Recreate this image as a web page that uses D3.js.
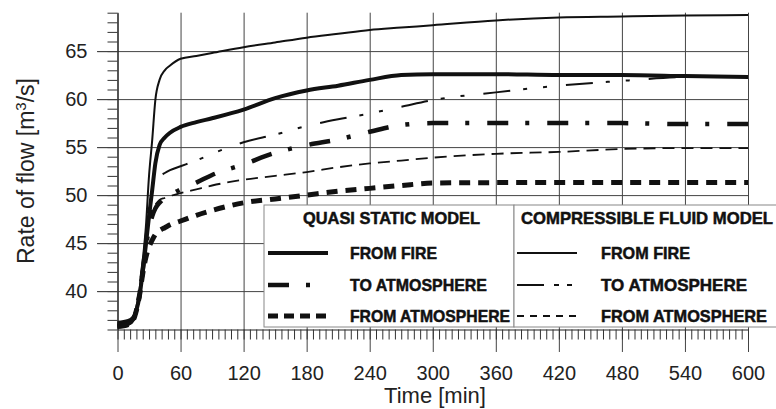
<!DOCTYPE html>
<html>
<head>
<meta charset="utf-8">
<script src="https://cdn.jsdelivr.net/npm/d3@7"></script>
<style>
  body { margin: 0; background: #fff; }
  svg { display: block; font-family: "Liberation Sans", Arial, sans-serif; }
</style>
</head>
<body>
<svg width="776" height="409"></svg>
<script>
// time grid [min]
const times = [0, 10, 15, 18, 21, 24, 27, 30, 33, 36, 40, 45, 50, 60, 75, 90, 120, 150, 180, 210, 240, 270, 300, 360, 420, 480, 540, 600];

// compressible fluid model
const cfFire    = [36.8, 37.0, 37.4, 38.4, 40.2, 43.2, 46.7, 52.0, 55.7, 59.9, 62.0, 63.0, 63.5, 64.2, 64.5, 64.8, 65.4, 65.9, 66.4, 66.8, 67.2, 67.45, 67.7, 68.2, 68.5, 68.6, 68.7, 68.75];
const cfToAtm   = [36.6, 36.8, 37.3, 38.2, 40.0, 42.8, 46.0, 49.0, 50.5, 51.3, 51.9, 52.3, 52.6, 53.0, 53.6, 54.3, 55.5, 56.3, 57.2, 57.9, 58.5, 59.2, 59.9, 60.7, 61.4, 61.9, 62.3, 62.4];
const cfFromAtm = [36.7, 36.9, 37.3, 38.2, 39.9, 42.6, 45.3, 47.4, 48.5, 49.0, 49.5, 49.7, 49.9, 50.2, 50.6, 51.0, 51.6, 52.0, 52.4, 52.9, 53.3, 53.6, 53.9, 54.3, 54.5, 54.8, 54.9, 54.9];

// quasi static model
const qsFire    = [36.3, 36.6, 37.1, 38.0, 39.5, 42.0, 44.8, 47.8, 50.5, 53.3, 55.2, 56.0, 56.5, 57.1, 57.6, 58.0, 58.9, 60.1, 60.9, 61.4, 62.0, 62.5, 62.6, 62.6, 62.5, 62.5, 62.4, 62.3];
const qsToAtm   = [36.4, 36.6, 37.1, 38.0, 39.6, 42.2, 44.6, 46.5, 47.8, 48.6, 49.2, 49.7, 50.0, 50.6, 51.3, 52.1, 53.2, 54.4, 55.2, 55.8, 56.6, 57.3, 57.5, 57.5, 57.5, 57.5, 57.4, 57.4];
const qsFromAtm = [36.3, 36.5, 37.0, 38.0, 39.6, 41.8, 43.5, 44.6, 45.3, 45.9, 46.3, 46.6, 46.9, 47.3, 47.9, 48.4, 49.2, 49.6, 50.0, 50.4, 50.7, 51.0, 51.25, 51.3, 51.3, 51.3, 51.3, 51.3];

const xTicks = [0, 60, 120, 180, 240, 300, 360, 420, 480, 540, 600];
const yTicks = [40, 45, 50, 55, 60, 65];

const legendGroups = ["QUASI STATIC MODEL", "COMPRESSIBLE FLUID MODEL"];
const legendRows = ["FROM FIRE", "TO ATMOSPHERE", "FROM ATMOSPHERE"];

// line styles
const styles = {
  qsFire:    {w: 4,   dash: null},
  qsToAtm:   {w: 4.5, dash: "21,17,4,18", legDash: "21,17,4,18"},
  qsFromAtm: {w: 5,   dash: "11,8", legDash: "10,6"},
  cfFire:    {w: 2,   dash: null},
  cfToAtm:   {w: 2,   dash: "27,13,4,16,4,19", legDash: "27,10,5,8,5,20"},
  cfFromAtm: {w: 1.8, dash: "12,7", legDash: "7,6"}
};

const series = [
  {key: "qsFromAtm", v: qsFromAtm}, {key: "cfFromAtm", v: cfFromAtm},
  {key: "qsToAtm", v: qsToAtm}, {key: "cfToAtm", v: cfToAtm},
  {key: "qsFire", v: qsFire}, {key: "cfFire", v: cfFire}
];

const svg = d3.select("svg");
const x = d3.scaleLinear().domain([0, 600]).range([117.5, 748]);
const y = d3.scaleLinear().domain([36, 69]).range([329.5, 12.7]);
const gridCol = "#444";

// horizontal grid
svg.append("g")
  .attr("transform", `translate(${x(600)},0)`)
  .call(d3.axisLeft(y).tickValues(yTicks).tickSize(x(600) - 97).tickFormat(""))
  .call(g => g.select(".domain").remove())
  .call(g => g.selectAll("line").attr("stroke", gridCol).attr("stroke-width", 1));

// vertical grid
svg.append("g")
  .attr("transform", `translate(0,${y(69)})`)
  .call(d3.axisBottom(x).tickValues(xTicks).tickSize(352 - y(69)).tickFormat(""))
  .call(g => g.select(".domain").remove())
  .call(g => g.selectAll("line").attr("stroke", gridCol).attr("stroke-width", 1));

// minor ticks
svg.append("g")
  .attr("transform", `translate(${x(0)},0)`)
  .call(d3.axisLeft(y).tickValues(d3.range(36, 70, 1)).tickSize(10).tickSizeOuter(0).tickFormat(""))
  .call(g => g.selectAll("line").attr("stroke", "#333"))
  .call(g => g.select(".domain").attr("stroke", "#222").attr("stroke-width", 1.2));

svg.append("g")
  .attr("transform", `translate(0,${y(36)})`)
  .call(d3.axisBottom(x).tickValues(d3.range(0, 601, 6)).tickSize(10).tickSizeOuter(0).tickFormat(""))
  .call(g => g.selectAll("line").attr("stroke", "#333"))
  .call(g => g.select(".domain").attr("stroke", "#222").attr("stroke-width", 1.2));

// tick labels
svg.append("g")
  .attr("transform", `translate(${x(0)},0)`)
  .call(d3.axisLeft(y).tickValues(yTicks).tickSize(20).tickPadding(10))
  .call(g => g.select(".domain").remove())
  .call(g => g.selectAll("line").attr("stroke", gridCol))
  .call(g => g.selectAll("text").attr("font-size", 20).attr("fill", "#222").attr("font-family", "Liberation Sans, Arial"));

svg.append("g")
  .attr("transform", `translate(0,${y(36)})`)
  .call(d3.axisBottom(x).tickValues(xTicks).tickSize(0).tickPadding(36))
  .call(g => g.select(".domain").remove())
  .call(g => g.selectAll("text").attr("font-size", 20).attr("fill", "#222").attr("font-family", "Liberation Sans, Arial"));

// axis titles
svg.append("text")
  .attr("x", 435).attr("y", 403)
  .attr("text-anchor", "middle")
  .attr("font-size", 22).attr("fill", "#222")
  .text("Time [min]");

const yt = svg.append("text")
  .attr("transform", "translate(34,171) rotate(-90)")
  .attr("text-anchor", "middle")
  .attr("font-size", 23).attr("fill", "#222");
yt.append("tspan").text("Rate of flow [m");
yt.append("tspan").attr("dy", -8).attr("font-size", 15).text("3");
yt.append("tspan").attr("dy", 8).text("/s]");

// curves
const line = d3.line()
  .x((d, i) => x(times[i]))
  .y(d => y(d))
  .curve(d3.curveMonotoneX);

svg.append("g").selectAll("path")
  .data(series)
  .join("path")
  .attr("d", d => line(d.v))
  .attr("fill", "none")
  .attr("stroke", "#111")
  .attr("stroke-width", d => styles[d.key].w)
  .attr("stroke-dasharray", d => styles[d.key].dash)
  .attr("stroke-linejoin", "round");

// legend
const leg = svg.append("g");
const boxes = [{x0: 264, x1: 514, keys: ["qsFire", "qsToAtm", "qsFromAtm"], lx: 268, tx: 350,
                tw: [87, 137, 160], titleX: 303, titleW: 177},
               {x0: 514, x1: 800, keys: ["cfFire", "cfToAtm", "cfFromAtm"], lx: 517, tx: 601,
                tw: [89, 146, 166], titleX: 521, titleW: 252}];
const rowY = [253, 285, 316];

boxes.forEach((b, gi) => {
  leg.append("rect")
    .attr("x", b.x0).attr("y", 205).attr("width", b.x1 - b.x0).attr("height", 122)
    .attr("fill", "#fff").attr("stroke", "#888").attr("stroke-width", 1);
  leg.append("text")
    .attr("x", b.titleX).attr("y", 224)
    .attr("font-size", 16.5).attr("font-weight", "bold").attr("fill", "#111")
    .attr("stroke", "#111").attr("stroke-width", 0.5)
    .attr("textLength", b.titleW).attr("lengthAdjust", "spacingAndGlyphs")
    .text(legendGroups[gi]);
  b.keys.forEach((k, i) => {
    leg.append("line")
      .attr("x1", b.lx).attr("x2", b.lx + 60)
      .attr("y1", rowY[i]).attr("y2", rowY[i])
      .attr("stroke", "#111")
      .attr("stroke-width", styles[k].w)
      .attr("stroke-dasharray", styles[k].legDash || null);
    leg.append("text")
      .attr("x", b.tx).attr("y", rowY[i] + 6)
      .attr("font-size", 16.5).attr("font-weight", "bold").attr("fill", "#111")
      .attr("stroke", "#111").attr("stroke-width", 0.5)
      .attr("textLength", b.tw[i]).attr("lengthAdjust", "spacingAndGlyphs")
      .text(legendRows[i]);
  });
});
</script>
</body>
</html>
